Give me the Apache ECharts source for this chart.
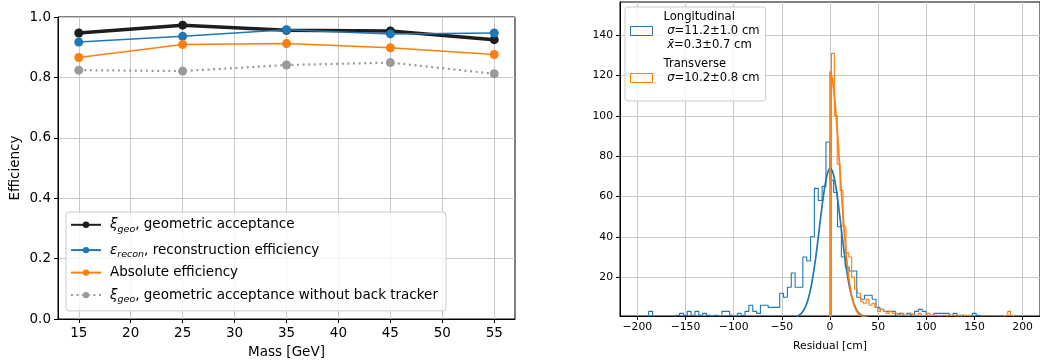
<!DOCTYPE html>
<html><head><meta charset="utf-8">
<script src="https://cdn.jsdelivr.net/npm/echarts@6/dist/echarts.min.js"></script>
<style>html,body{margin:0;padding:0;background:#fff}#c{width:1040px;height:364px}</style>
</head><body><div id="c"></div>
<script>
// ---------- left panel data ----------
const masses = [15, 25, 35, 45, 55];
const geoAcc = [0.947, 0.973, 0.956, 0.954, 0.925];
const reconEff = [0.917, 0.936, 0.958, 0.944, 0.947];
const absEff = [0.866, 0.909, 0.912, 0.898, 0.876];
const geoAccNoBack = [0.824, 0.821, 0.841, 0.849, 0.812];
const massTicks = [15, 20, 25, 30, 35, 40, 45, 50, 55];

// ---------- right panel data ----------
const residualTicks = [-200, -150, -100, -50, 0, 50, 100, 150, 200];
const countTicks = [20, 40, 60, 80, 100, 120, 140];
const longBinStart = -200.2, longBinWidth = 4;
const longCounts = [
  0,0,0,3,0,0,0,0,0,0,
  1,2,1,3,1,3,1,2,1,0,
  1,0,3,3,1,0,2,1,3,6,
  3,2,6,6,5,5,5,12,10,15,
  22,15,15,30,28,40,64,58,65,87,
  68,62,45,30,25,23,23,10,9,11,
  11,9,5,4,3,3,3,1,2,1,
  2,1,3,4,3,0,1,2,2,2,
  2,1,2,0,1,0,0,2,1,0,
  0,0,0,0,0,0,0,0,0,0
];
const transBinStart = 1.5, transBinWidth = 3;
const transCounts = [
  131,100,76,63,45,32,30,20,14,12,
  8,7,9,6,7,5,3,4,3,2,
  3,2,2,1,2,1,1,2,1,1,
  2,1,1,2,1,1,1,0,1,1,
  0,1,1,0,1,0,1,1,0,0,
  0,0,0,0,0,0,0,0,0,0,
  1,3,1,0
];
// fitted curves
const longFitX = [-35,-32.5,-30,-27.5,-25,-22.5,-20,-17.5,-15,-12.5,-10,-7.5,-5,-2.5,0,2.5,5,7.5,10,12.5,15,17.5,20,22.5,25,27.5,30,32.5,35,37.5];
const longFitY = [0.5,1.0,1.9,3.4,5.8,9.4,14.3,21,29,38.5,48.5,58,66,71.7,74,72.6,67.8,60.2,50.9,40.9,31.3,22.7,15.7,10.4,6.5,3.9,2.2,1.2,0.6,0.3];
const transFitX = [0,0,2.5,5,7.5,10,12.5,15,17.5,20,22.5,25,27.5,30,32.5,35,40];
const transFitY = [0,122,118.4,108.2,93.1,75.4,57.6,41.4,28,17.8,10.7,6.1,3.2,1.6,0.8,0.34,0.05];

const longLabel = 'Longitudinal';
const transLabel = 'Transverse';
const nameGeo = 'ξgeo, geometric acceptance';
const nameRecon = 'εrecon, reconstruction efficiency';
const nameAbs = 'Absolute efficiency';
const nameGeoNoBack = 'ξgeo, geometric acceptance without back tracker';

// ---------- builders ----------
function pairs(xs, ys) { return xs.map((x, i) => [x, ys[i]]); }
function stepPoints(start, width, counts) {
  const pts = [[start, 0]];
  counts.forEach((c, i) => {
    pts.push([start + i * width, c]);
    pts.push([start + (i + 1) * width, c]);
  });
  pts.push([start + counts.length * width, 0]);
  return pts;
}
const FONT = 'DejaVu Sans';
const minus = v => String(v).replace('-', '\u2212');

const leftRich = {
  g: {fontFamily: FONT, fontStyle: 'italic', fontSize: 13.5, lineHeight: 19.6, color: '#000'},
  s: {fontFamily: FONT, fontStyle: 'italic', fontSize: 9.5, lineHeight: 18.6, verticalAlign: 'bottom', color: '#000'},
  t: {fontFamily: FONT, fontSize: 13.5, lineHeight: 19.6, color: '#000'}
};
const leftLegendText = {};
leftLegendText[nameGeo] = '{g|ξ}{s|geo}{t|, geometric acceptance}';
leftLegendText[nameRecon] = '{g|ε}{s|recon}{t|, reconstruction efficiency}';
leftLegendText[nameAbs] = 'Absolute efficiency';
leftLegendText[nameGeoNoBack] = '{g|ξ}{s|geo}{t|, geometric acceptance without back tracker}';

const rightLegendText = {};
rightLegendText[longLabel] = 'Longitudinal\n {i|σ}=11.2±1.0 cm\n {i|x\u0304}=0.3±0.7 cm';
rightLegendText[transLabel] = 'Transverse\n {i|σ}=10.2±0.8 cm\n ';

const axisCommon = {
  axisLine: {show: true, onZero: false, lineStyle: {color: '#000', width: 1}},
  splitLine: {show: true, lineStyle: {color: '#c8c8c8', width: 1}}
};

function lineSeries(name, data, color, width, extra) {
  return Object.assign({
    type: 'line', name: name, xAxisIndex: 0, yAxisIndex: 0,
    data: data, symbol: 'circle', symbolSize: 9,
    lineStyle: {color: color, width: width},
    itemStyle: {color: color},
    emphasis: {disabled: true}
  }, extra || {});
}

const option = {
  animation: false,
  backgroundColor: '#fff',
  grid: [
    {left: 58, top: 17, right: 525, bottom: 45, show: true, borderColor: '#000', borderWidth: 1},
    {left: 620, top: 2, right: -2, bottom: 48, show: true, borderColor: '#000', borderWidth: 1}
  ],
  xAxis: [
    Object.assign({}, axisCommon, {
      type: 'value', gridIndex: 0, min: 13, max: 57,
      name: 'Mass [GeV]', nameLocation: 'middle', nameGap: 26,
      nameTextStyle: {fontFamily: FONT, fontSize: 13.5, color: '#000'},
      axisLabel: {customValues: massTicks, fontFamily: FONT, fontSize: 13.5, color: '#000', margin: 7},
      axisTick: {show: true, length: 4, customValues: massTicks, lineStyle: {color: '#000'}}
    }),
    Object.assign({}, axisCommon, {
      type: 'value', gridIndex: 1, min: -218, max: 218,
      name: 'Residual [cm]', nameLocation: 'middle', nameGap: 25,
      nameTextStyle: {fontFamily: FONT, fontSize: 10.8, color: '#000'},
      axisLabel: {customValues: residualTicks, fontFamily: FONT, fontSize: 10.8, color: '#000', margin: 6, formatter: minus},
      axisTick: {show: true, length: 4, customValues: residualTicks, lineStyle: {color: '#000'}}
    })
  ],
  yAxis: [
    Object.assign({}, axisCommon, {
      type: 'value', gridIndex: 0, min: 0, max: 1, interval: 0.2,
      name: 'Efficiency', nameLocation: 'middle', nameGap: 36,
      nameTextStyle: {fontFamily: FONT, fontSize: 13.5, color: '#000'},
      axisLabel: {fontFamily: FONT, fontSize: 13.5, color: '#000', margin: 7, formatter: v => v.toFixed(1)},
      axisTick: {show: true, length: 4, lineStyle: {color: '#000'}}
    }),
    Object.assign({}, axisCommon, {
      type: 'value', gridIndex: 1, min: 0.7, max: 156.5,
      axisLabel: {customValues: countTicks, fontFamily: FONT, fontSize: 10.8, color: '#000', margin: 7},
      axisTick: {show: true, length: 4, customValues: countTicks, lineStyle: {color: '#000'}}
    })
  ],
  legend: [
    {
      data: [nameGeo, nameRecon, nameAbs, nameGeoNoBack],
      left: 66, top: 212, orient: 'vertical',
      padding: [3, 8, 6, 4], itemGap: 5.7, itemWidth: 30, itemHeight: 8,
      backgroundColor: 'rgba(255,255,255,0.8)', borderColor: '#cccccc', borderWidth: 1, borderRadius: 3,
      formatter: n => leftLegendText[n],
      textStyle: {fontFamily: FONT, fontSize: 13.5, color: '#000', lineHeight: 14, padding: [0, 0, 0, 4], rich: leftRich},
      selectedMode: false
    },
    {
      data: [
        {name: longLabel, icon: 'rect', itemStyle: {color: 'rgba(0,0,0,0)', borderColor: '#1f77b4', borderWidth: 1}},
        {name: transLabel, icon: 'rect', itemStyle: {color: 'rgba(0,0,0,0)', borderColor: '#ff7f0e', borderWidth: 1}}
      ],
      left: 625, top: 7, orient: 'vertical',
      padding: [3, 6, 2, 5], itemGap: 5, itemWidth: 22, itemHeight: 9,
      backgroundColor: 'rgba(255,255,255,0.8)', borderColor: '#cccccc', borderWidth: 1, borderRadius: 3,
      formatter: n => rightLegendText[n],
      textStyle: {fontFamily: FONT, fontSize: 11.6, color: '#000', lineHeight: 14, padding: [0, 0, 0, 6],
        rich: {i: {fontFamily: FONT, fontStyle: 'italic', fontSize: 11.6, lineHeight: 14, color: '#000'}}},
      selectedMode: false
    }
  ],
  series: [
    lineSeries(nameGeo, pairs(masses, geoAcc), '#1e1e1e', 3.5),
    lineSeries(nameRecon, pairs(masses, reconEff), '#1f77b4', 1.5),
    lineSeries(nameAbs, pairs(masses, absEff), '#ff7f0e', 1.5),
    lineSeries(nameGeoNoBack, pairs(masses, geoAccNoBack), '#9a9a9a', 2.2, {
      lineStyle: {color: '#9a9a9a', width: 2.2, type: [2, 3.6]}
    }),
    {
      type: 'line', name: longLabel, xAxisIndex: 1, yAxisIndex: 1,
      data: stepPoints(longBinStart, longBinWidth, longCounts),
      symbol: 'none', lineStyle: {color: '#1f77b4', width: 1.1}, itemStyle: {color: '#1f77b4'},
      emphasis: {disabled: true}, clip: true
    },
    {
      type: 'line', name: transLabel, xAxisIndex: 1, yAxisIndex: 1,
      data: stepPoints(transBinStart, transBinWidth, transCounts),
      symbol: 'none', lineStyle: {color: '#ff7f0e', width: 1.1}, itemStyle: {color: '#ff7f0e'},
      emphasis: {disabled: true}, clip: true
    },
    {
      type: 'line', name: 'longFit', xAxisIndex: 1, yAxisIndex: 1,
      data: pairs(longFitX, longFitY), smooth: 0.3,
      symbol: 'none', lineStyle: {color: '#1f77b4', width: 1.7},
      emphasis: {disabled: true}, clip: true
    },
    {
      type: 'line', name: 'transFit', xAxisIndex: 1, yAxisIndex: 1,
      data: pairs(transFitX, transFitY),
      symbol: 'none', lineStyle: {color: '#ff7f0e', width: 1.7},
      emphasis: {disabled: true}, clip: true
    }
  ]
};
const chart = echarts.init(document.getElementById('c'), null, {renderer: 'canvas'});
chart.setOption(option);
</script>
</body></html>
